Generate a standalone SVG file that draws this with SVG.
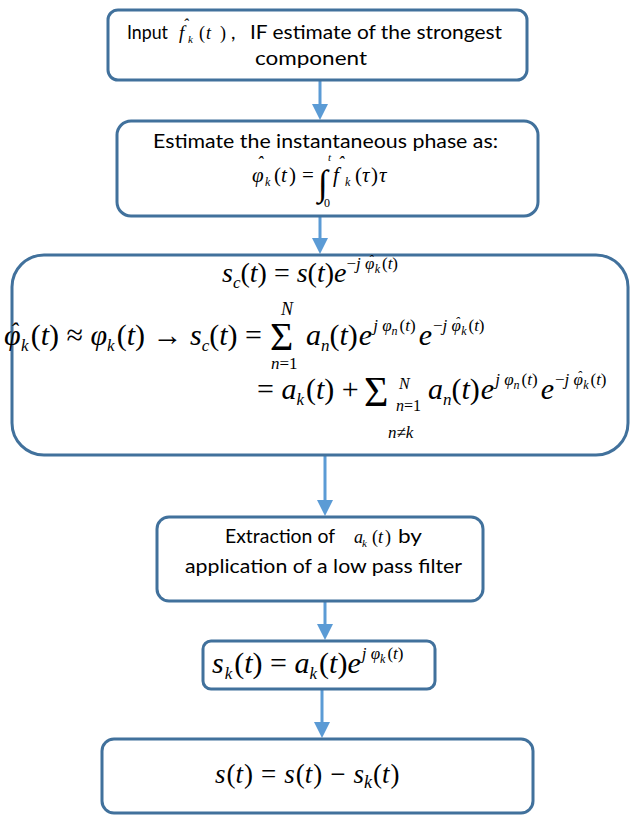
<svg xmlns="http://www.w3.org/2000/svg" width="630" height="815" viewBox="0 0 630 815">
<style>
.box{fill:#fff;stroke:#41719C;stroke-width:3}
.t{font-family:Lato,"Open Sans","Liberation Sans",sans-serif;font-size:19.5px;fill:#000}
.m{font-family:"Liberation Serif","Times New Roman",serif;font-style:italic;fill:#000}
.r{font-style:normal}
.s{font-size:17px}
.ss{font-size:12px}
.conn{stroke:#5B9BD5;stroke-width:3;fill:none}
</style>
<defs>
<marker id="ah" viewBox="0 0 16 16" markerWidth="16" markerHeight="16" refX="5" refY="8" orient="auto" markerUnits="userSpaceOnUse">
<path d="M0,0 L16,8 L0,16 Z" fill="#5B9BD5"/>
</marker>
</defs>
<g id="connectors">
<line class="conn" x1="320" y1="81" x2="320" y2="109" marker-end="url(#ah)"/>
<line class="conn" x1="320" y1="216" x2="320" y2="243" marker-end="url(#ah)"/>
<line class="conn" x1="325" y1="456" x2="325" y2="505" marker-end="url(#ah)"/>
<line class="conn" x1="325" y1="602" x2="325" y2="629" marker-end="url(#ah)"/>
<line class="conn" x1="322" y1="690" x2="322" y2="727" marker-end="url(#ah)"/>
</g>
<g id="n1">
<rect class="box" x="108" y="10" width="419" height="70" rx="10"/>
<text class="t" x="127" y="39" textLength="41" lengthAdjust="spacingAndGlyphs">Input</text>
<text class="m" x="179" y="39" font-size="19">f</text>
<text class="m" x="183" y="30" font-size="16">ˆ</text>
<text class="m" x="188" y="43" font-size="11">k</text>
<text class="m r" x="199" y="39" font-size="18">(</text>
<text class="m" x="206" y="39" font-size="18">t</text>
<text class="m r" x="220" y="39" font-size="18">)</text>
<text class="t" x="231" y="39">,</text>
<text class="t" x="250" y="39" textLength="252" lengthAdjust="spacingAndGlyphs">IF estimate of the strongest</text>
<text class="t" x="255" y="65" textLength="112" lengthAdjust="spacingAndGlyphs">component</text>
</g>
<g id="n2">
<rect class="box" x="117" y="121" width="421" height="95" rx="14"/>
<text class="t" x="153" y="148" textLength="345" lengthAdjust="spacingAndGlyphs">Estimate the instantaneous phase as:</text>
<text class="m" x="252" y="182" font-size="21">φ</text>
<text class="m" x="257" y="169" font-size="18">ˆ</text>
<text class="m" x="265" y="186" font-size="12">k</text>
<text class="m r" x="274" y="182" font-size="21">(</text>
<text class="m" x="281" y="182" font-size="21">t</text>
<text class="m r" x="289" y="182" font-size="21">)</text>
<text class="m r" x="302" y="182" font-size="21">=</text>
<text class="m r" x="318" y="195" font-size="36">∫</text>
<text class="m" x="328" y="161" font-size="11">t</text>
<text class="m r" x="324" y="207" font-size="12">0</text>
<text class="m" x="333" y="182" font-size="21">f</text>
<text class="m" x="338" y="169" font-size="18">ˆ</text>
<text class="m" x="345" y="186" font-size="12">k</text>
<text class="m r" x="355" y="182" font-size="21">(</text>
<text class="m" x="362" y="182" font-size="21">τ</text>
<text class="m r" x="371" y="182" font-size="21">)</text>
<text class="m" x="379" y="182" font-size="21">τ</text>
</g>
<g id="n3">
<rect class="box" x="12" y="255" width="616" height="200" rx="32"/>
<text class="m" font-size="28" x="222" y="282">s<tspan class="s" dy="6">c</tspan><tspan class="r" dy="-6">(</tspan>t<tspan class="r">) = </tspan>s<tspan class="r">(</tspan>t<tspan class="r">)</tspan>e<tspan class="s" dy="-13"><tspan class="r">−</tspan>j φ<tspan dx="-6" dy="-4" font-size="14">ˆ</tspan><tspan class="ss" dx="1.5" dy="8">k</tspan><tspan class="r" dx="2" dy="-4">(</tspan>t<tspan class="r">)</tspan></tspan></text>
<text class="m" font-size="30" x="4" y="345">φ<tspan dx="-10.5" dy="-6" font-size="24">ˆ</tspan><tspan class="s" dx="3" dy="12">k</tspan><tspan class="r" dy="-6" dx="2">(</tspan>t<tspan class="r">) ≈ </tspan>φ<tspan class="s" dy="6">k</tspan><tspan class="r" dy="-6" dx="2">(</tspan>t<tspan class="r">) → </tspan>s<tspan class="s" dy="6">c</tspan><tspan class="r" dy="-6">(</tspan>t<tspan class="r">) =</tspan></text>
<text class="m r" x="270" y="350" font-size="40">Σ</text>
<text class="m" x="281" y="315" font-size="18">N</text>
<text class="m" x="271" y="369" font-size="17">n<tspan class="r">=1</tspan></text>
<text class="m" font-size="30" x="306" y="345">a<tspan class="s" dy="6">n</tspan><tspan class="r" dy="-6">(</tspan>t<tspan class="r">)</tspan><tspan dx="1">e</tspan><tspan class="s" dy="-14" dx="1">j φ<tspan class="ss" dy="4">n</tspan><tspan class="r" dx="2" dy="-4">(</tspan>t<tspan class="r">)</tspan></tspan><tspan dy="14" dx="3">e</tspan><tspan class="s" dy="-14" dx="1"><tspan class="r">−</tspan>j φ<tspan dx="-6" dy="-4" font-size="14">ˆ</tspan><tspan class="ss" dx="1.5" dy="8">k</tspan><tspan class="r" dx="2" dy="-4">(</tspan>t<tspan class="r">)</tspan></tspan></text>
<text class="m" font-size="30" x="257" y="399"><tspan class="r">= </tspan>a<tspan class="s" dy="6">k</tspan><tspan class="r" dy="-6" dx="2">(</tspan>t<tspan class="r">) +</tspan></text>
<text class="m r" x="364" y="406" font-size="42">Σ</text>
<text class="m" x="399" y="389" font-size="16">N</text>
<text class="m" x="396" y="411" font-size="16">n<tspan class="r">=1</tspan></text>
<text class="m" x="388" y="438" font-size="17">n<tspan class="r">≠</tspan>k</text>
<text class="m" font-size="30" x="428" y="399">a<tspan class="s" dy="6">n</tspan><tspan class="r" dy="-6">(</tspan>t<tspan class="r">)</tspan><tspan dx="1">e</tspan><tspan class="s" dy="-14" dx="1">j φ<tspan class="ss" dy="4">n</tspan><tspan class="r" dx="2" dy="-4">(</tspan>t<tspan class="r">)</tspan></tspan><tspan dy="14" dx="3">e</tspan><tspan class="s" dy="-14" dx="1"><tspan class="r">−</tspan>j φ<tspan dx="-6" dy="-4" font-size="14">ˆ</tspan><tspan class="ss" dx="1.5" dy="8">k</tspan><tspan class="r" dx="2" dy="-4">(</tspan>t<tspan class="r">)</tspan></tspan></text>
</g>
<g id="n4">
<rect class="box" x="157" y="517" width="326" height="84" rx="12"/>
<text class="t" x="225" y="543" textLength="110" lengthAdjust="spacingAndGlyphs">Extraction of</text>
<text class="m" x="354" y="543" font-size="18">a</text>
<text class="m" x="362" y="547" font-size="11">k</text>
<text class="m r" x="372" y="543" font-size="18">(</text>
<text class="m" x="378" y="543" font-size="18">t</text>
<text class="m r" x="385" y="543" font-size="18">)</text>
<text class="t" x="398" y="543" textLength="24" lengthAdjust="spacingAndGlyphs">by</text>
<text class="t" x="185" y="573" textLength="277" lengthAdjust="spacingAndGlyphs">application of a low pass filter</text>
</g>
<g id="n5">
<rect class="box" x="203" y="641" width="232" height="48" rx="8"/>
<text class="m" font-size="30" x="212" y="673">s<tspan class="s" dy="6" dx="1">k</tspan><tspan class="r" dy="-6" dx="2">(</tspan>t<tspan class="r">) = </tspan>a<tspan class="s" dy="6">k</tspan><tspan class="r" dy="-6" dx="2">(</tspan>t<tspan class="r">)</tspan>e<tspan class="s" dy="-14" dx="1">j φ<tspan class="ss" dy="4">k</tspan><tspan class="r" dx="2" dy="-4">(</tspan>t<tspan class="r">)</tspan></tspan></text>
</g>
<g id="n6">
<rect class="box" x="102" y="739" width="431" height="74" rx="12"/>
<text class="m" x="215" y="783" font-size="27">s<tspan class="r" dx="1">(</tspan>t<tspan class="r" dx="1">)</tspan><tspan class="r" dx="8">=</tspan><tspan dx="8">s</tspan><tspan class="r" dx="1">(</tspan>t<tspan class="r" dx="1">)</tspan><tspan class="r" dx="8">−</tspan><tspan dx="8">s</tspan><tspan font-size="18" dy="5">k</tspan><tspan class="r" dy="-5" dx="1">(</tspan>t<tspan class="r" dx="1">)</tspan></text>
</g>
</svg>
